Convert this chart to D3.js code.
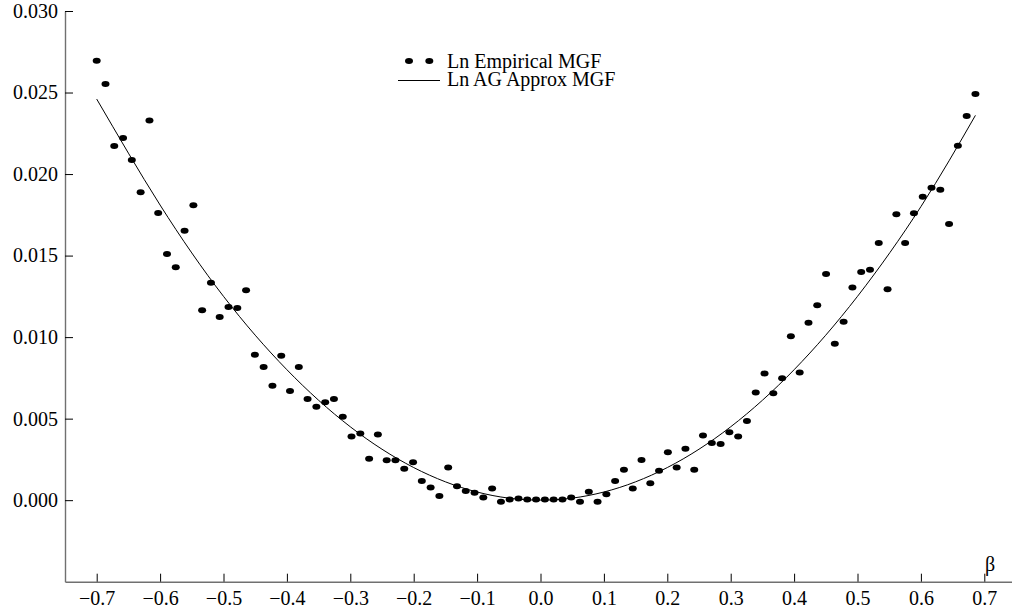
<!DOCTYPE html>
<html>
<head>
<meta charset="utf-8">
<script src="https://cdn.jsdelivr.net/npm/d3@7"></script>
<style>
  html, body { margin: 0; padding: 0; background: #fff; }
  svg { display: block; font-family: 'Liberation Serif', 'Times New Roman', serif; }
</style>
</head>
<body>
<div id="chart"></div>
<script>
const SIZE = { width: 1012, height: 613 }
const PLOT = { left: 65, right: 1016, top: 11, bottom: 581.7 }

// beta grid of the empirical points
const betas = [
  -0.7000, -0.6861, -0.6723, -0.6584, -0.6446, -0.6307, -0.6168, -0.6030, -0.5891, -0.5753,
  -0.5614, -0.5475, -0.5337, -0.5198, -0.5060, -0.4921, -0.4782, -0.4644, -0.4505, -0.4367,
  -0.4228, -0.4089, -0.3951, -0.3812, -0.3674, -0.3535, -0.3396, -0.3258, -0.3119, -0.2981,
  -0.2842, -0.2703, -0.2565, -0.2426, -0.2288, -0.2149, -0.2010, -0.1872, -0.1733, -0.1595,
  -0.1456, -0.1317, -0.1179, -0.1040, -0.0902, -0.0763, -0.0624, -0.0486, -0.0347, -0.0209,
  -0.0070, 0.0069, 0.0207, 0.0346, 0.0484, 0.0623, 0.0762, 0.0900, 0.1039, 0.1177,
  0.1316, 0.1455, 0.1593, 0.1732, 0.1870, 0.2009, 0.2148, 0.2286, 0.2425, 0.2563,
  0.2702, 0.2841, 0.2979, 0.3118, 0.3256, 0.3395, 0.3534, 0.3672, 0.3811, 0.3949,
  0.4088, 0.4227, 0.4365, 0.4504, 0.4642, 0.4781, 0.4920, 0.5058, 0.5197, 0.5335,
  0.5474, 0.5613, 0.5751, 0.5890, 0.6029, 0.6167, 0.6306, 0.6444, 0.6583, 0.6722,
  0.6860,
]

const lnEmpirical = [
  0.02695, 0.02552, 0.02172, 0.02221, 0.02086, 0.01888, 0.02329, 0.01761, 0.01509, 0.01428,
  0.01652, 0.01808, 0.01164, 0.01333, 0.01123, 0.01184, 0.01178, 0.01287, 0.00892, 0.00816,
  0.00701, 0.00885, 0.00669, 0.00816, 0.00620, 0.00573, 0.00601, 0.00620, 0.00511, 0.00391,
  0.00409, 0.00254, 0.00403, 0.00245, 0.00245, 0.00192, 0.00233, 0.00118, 0.00078, 0.00025,
  0.00201, 0.00086, 0.00057, 0.00045, 0.00017, 0.00072, -0.00010, 0.00004, 0.00010, 0.00004,
  0.00004, 0.00004, 0.00004, 0.00004, 0.00017, -0.00010, 0.00051, -0.00010, 0.00037, 0.00118,
  0.00186, 0.00072, 0.00247, 0.00104, 0.00180, 0.00294, 0.00201, 0.00315, 0.00186, 0.00397,
  0.00350, 0.00344, 0.00417, 0.00391, 0.00485, 0.00661, 0.00777, 0.00655, 0.00748, 0.01006,
  0.00783, 0.01088, 0.01196, 0.01387, 0.00959, 0.01094, 0.01305, 0.01399, 0.01413, 0.01577,
  0.01293, 0.01753, 0.01577, 0.01759, 0.01861, 0.01916, 0.01904, 0.01693, 0.02174, 0.02356,
  0.02491,
]

// AG approximation curve
const fitBetas = [-0.70, -0.60, -0.50, -0.40, -0.30, -0.20, -0.10, 0.00, 0.10, 0.20, 0.30, 0.40, 0.50, 0.60, 0.686]
const lnApprox = [0.0246, 0.0181, 0.0125, 0.0080, 0.0045, 0.0020, 0.0005, 0.0000, 0.0005, 0.0020, 0.0045, 0.0080, 0.0125, 0.0180, 0.0236]

const xTicks = [-0.7, -0.6, -0.5, -0.4, -0.3, -0.2, -0.1, 0.0, 0.1, 0.2, 0.3, 0.4, 0.5, 0.6, 0.7]
const xMinorTicks = [-0.65, -0.55, -0.45, -0.35, -0.25, -0.15, -0.05, 0.05, 0.15, 0.25, 0.35, 0.45, 0.55, 0.65]
const yTicks = [0.000, 0.005, 0.010, 0.015, 0.020, 0.025, 0.030]
const yMinorTicks = [
  -0.004, -0.003, -0.002, -0.001, 0.001, 0.002, 0.003, 0.004, 0.006, 0.007, 0.008, 0.009,
  0.011, 0.012, 0.013, 0.014, 0.016, 0.017, 0.018, 0.019, 0.021, 0.022, 0.023, 0.024,
  0.026, 0.027, 0.028, 0.029,
]
const legendLabels = ['Ln Empirical MGF', 'Ln AG Approx MGF']

const FONT_SIZE = 20

function defineSVG (params) {
  const { selector, size } = params
  return d3.select(selector)
    .append('svg')
    .attr('width', size.width)
    .attr('height', size.height)
}

function drawAxes (params) {
  const { svg, x, y } = params

  const gx = svg.append('g')
    .attr('transform', `translate(0,${PLOT.bottom})`)
  gx.call(d3.axisBottom(x).tickValues(xMinorTicks).tickSize(-4).tickSizeOuter(0).tickFormat(''))
  gx.call(d3.axisBottom(x).tickValues(xTicks).tickSize(-8).tickSizeOuter(0).tickPadding(9)
    .tickFormat(d3.format('.1f')))

  const gy = svg.append('g')
    .attr('transform', `translate(${PLOT.left},0)`)
  gy.call(d3.axisLeft(y).tickValues(yMinorTicks).tickSize(-4).tickSizeOuter(0).tickFormat(''))
  gy.call(d3.axisLeft(y).tickValues(yTicks).tickSize(-8).tickSizeOuter(0).tickPadding(7)
    .tickFormat(d3.format('.3f')))

  svg.selectAll('.tick line').attr('stroke', '#000').attr('stroke-width', 1)
  svg.selectAll('.domain').attr('stroke', '#707070').attr('stroke-width', 1.4)
  svg.selectAll('.tick text')
    .attr('fill', '#000')
    .style('font-size', `${FONT_SIZE}px`)
    .style('font-family', "'Liberation Serif', serif")

  svg.append('text')
    .attr('x', 990)
    .attr('y', 571)
    .attr('text-anchor', 'middle')
    .style('font-size', `${FONT_SIZE}px`)
    .text('β')
}

function drawSeries (params) {
  const { svg, x, y } = params

  const line = d3.line()
    .x(d => x(d[0]))
    .y(d => y(d[1]))
    .curve(d3.curveNatural)

  svg.append('path')
    .datum(d3.zip(fitBetas, lnApprox))
    .attr('fill', 'none')
    .attr('stroke', '#000')
    .attr('stroke-width', 1)
    .attr('d', line)

  svg.append('g')
    .selectAll('ellipse')
    .data(d3.zip(betas, lnEmpirical))
    .enter()
    .append('ellipse')
    .attr('cx', d => x(d[0]))
    .attr('cy', d => y(d[1]))
    .attr('rx', 4)
    .attr('ry', 3)
    .attr('fill', '#000')
}

function drawLegend (svg) {
  const g = svg.append('g').attr('transform', 'translate(447,0)')
  g.selectAll('ellipse')
    .data([-38, -17.7])
    .enter()
    .append('ellipse')
    .attr('cx', d => d)
    .attr('cy', 61)
    .attr('rx', 4)
    .attr('ry', 3)
    .attr('fill', '#000')
  g.append('line')
    .attr('x1', -49).attr('x2', -7)
    .attr('y1', 80.5).attr('y2', 80.5)
    .attr('stroke', '#000')
    .attr('stroke-width', 1)
  g.selectAll('text')
    .data(legendLabels)
    .enter()
    .append('text')
    .attr('x', 0)
    .attr('y', (d, i) => 67.5 + i * 18)
    .style('font-size', `${FONT_SIZE}px`)
    .text(d => d)
}

const x = d3.scaleLinear().domain([-0.75, 0.75]).range([PLOT.left, PLOT.right])
const y = d3.scaleLinear().domain([-0.005, 0.030]).range([PLOT.bottom, PLOT.top])

const svg = defineSVG({ selector: '#chart', size: SIZE })
drawAxes({ svg, x, y })
drawSeries({ svg, x, y })
drawLegend(svg)
</script>
</body>
</html>
